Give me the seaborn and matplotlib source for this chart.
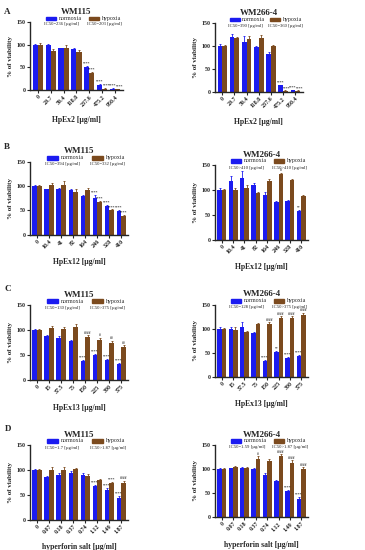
import matplotlib
matplotlib.use("Agg")
import matplotlib.pyplot as plt
from matplotlib.patches import Rectangle
import pandas as pd
import seaborn as sns

# --- data ---
conc_a = ['0', '29.7', '59.4', '118.8', '237.6', '475.2', '950.4']
conc_b = ['0', '10.4', '41', '82', '164', '246', '328', '410']
conc_c = ['0', '15', '37.5', '75', '150', '225', '300', '375']
conc_d = ['0', '0.07', '0.18', '0.37', '0.74', '1.12', '1.49', '1.87']

a1_norm = [100, 99, 92, 90, 50, 12, 3]
a1_hyp = [100, 86, 92, 84, 38, 3, 2]
a1_norm_err = [2, 2, 1, 2, 3, 2, 1]
a1_hyp_err = [3, 5, 7, 4, 3, 1, 1]
a1_norm_ann = ['', '', '', '', '****', '****', '****']
a1_hyp_ann = ['', '', '', '', '****', '****', '****']

a2_norm = [100, 120, 109, 98, 83, 14, 3]
a2_hyp = [100, 118, 116, 117, 99, 2, 2]
a2_norm_err = [4, 7, 12, 3, 5, 2, 1]
a2_hyp_err = [3, 2, 6, 6, 3, 1, 1]
a2_norm_ann = ['', '', '', '', '', '****', '****']
a2_hyp_ann = ['', '', '', '', '', '****', '****']

b1_norm = [100, 93, 94, 92, 79, 76, 60, 48]
b1_hyp = [100, 103, 102, 87, 92, 68, 50, 38]
b1_norm_err = [2, 2, 2, 2, 2, 5, 2, 3]
b1_hyp_err = [2, 3, 8, 6, 4, 2, 2, 3]
b1_norm_ann = ['', '', '', '', '', '****', '****', '****']
b1_hyp_ann = ['', '', '', '', '', '****', '****', '****']

b2_norm = [100, 118, 124, 110, 90, 75, 77, 57]
b2_hyp = [100, 100, 103, 94, 118, 131, 120, 88]
b2_norm_err = [3, 9, 14, 4, 6, 2, 2, 3]
b2_hyp_err = [2, 4, 6, 2, 4, 3, 2, 2]
b2_norm_ann = ['', '', '', '', '', '', '', '**']
b2_hyp_ann = ['', '', '', '', '', '#', '', '']

c1_norm = [100, 89, 85, 78, 39, 50, 40, 32]
c1_hyp = [100, 104, 102, 107, 86, 81, 75, 67]
c1_norm_err = [2, 2, 3, 3, 2, 3, 2, 2]
c1_hyp_err = [2, 5, 5, 6, 4, 4, 4, 3]
c1_norm_ann = ['', '', '', '', '****', '****', '****', '****']
c1_hyp_ann = ['', '', '', '', '####', '#', '##', '##']

c2_norm = [100, 99, 104, 91, 33, 51, 40, 44]
c2_hyp = [100, 98, 93, 109, 110, 123, 123, 129]
c2_norm_err = [4, 5, 11, 3, 2, 3, 2, 2]
c2_hyp_err = [2, 5, 2, 2, 4, 3, 3, 4]
c2_norm_ann = ['', '', '', '', '****', '**', '****', '****']
c2_hyp_ann = ['', '', '', '', '####', '####', '####', '####']

d1_norm = [100, 85, 90, 94, 89, 67, 60, 44]
d1_hyp = [100, 100, 100, 101, 88, 80, 73, 73]
d1_norm_err = [2, 3, 3, 4, 4, 3, 3, 3]
d1_hyp_err = [2, 5, 5, 3, 3, 2, 3, 5]
d1_norm_ann = ['', '', '', '', '', '****', '****', '****']
d1_hyp_ann = ['', '', '', '', '', '', '****', '####']

d2_norm = [100, 101, 101, 100, 88, 74, 54, 38]
d2_hyp = [100, 104, 101, 120, 117, 127, 113, 100]
d2_norm_err = [2, 2, 4, 3, 4, 4, 3, 3]
d2_hyp_err = [3, 2, 3, 6, 3, 4, 5, 4]
d2_norm_ann = ['', '', '', '', '', '', '****', '****']
d2_hyp_ann = ['', '', '', '#', '', '####', '####', '####']

blue = '#1b1bf0'
brown = '#7b4a1e'

sns.set_style("ticks")
plt.rcParams['font.family'] = ['Liberation Serif', 'DejaVu Serif']
plt.rcParams['font.weight'] = 'bold'


def draw(ax, conc, norm, hyp, norm_err, hyp_err, norm_ann, hyp_ann,
         ic_n, ic_h, title, xlabel):
    n = len(conc)
    df = pd.DataFrame({'conc': conc * 2, 'val': norm + hyp,
                       'cond': ['normoxia'] * n + ['hypoxia'] * n})
    sns.barplot(data=df, x='conc', y='val', hue='cond', order=conc,
                hue_order=['normoxia', 'hypoxia'],
                palette=[blue, brown], errorbar=None, width=0.78,
                saturation=1, legend=False, linewidth=0, ax=ax)
    bars = ax.patches
    for k, (vals, errs, anns, col) in enumerate(
            [(norm, norm_err, norm_ann, blue), (hyp, hyp_err, hyp_ann, brown)]):
        xs = [p.get_x() + p.get_width() / 2 for p in bars[k * n:(k + 1) * n]]
        ax.errorbar(xs, vals, yerr=[[0] * n, errs], fmt='none', ecolor=col,
                    elinewidth=0.6, capsize=1, capthick=0.6)
        for x, v, e, s in zip(xs, vals, errs, anns):
            if s:
                dx = 0.12 if (k == 1 and v < 15) else 0
                ax.text(x + dx, v + e + 1, s, ha='center', va='bottom',
                        fontsize=2.6, color='black', fontweight='normal')
    ax.set_ylim(0, 150)
    ax.set_yticks([0, 50, 100, 150])
    ax.set_xlim(-0.6, n - 0.4)
    sns.despine(ax=ax)
    for sp in ['left', 'bottom']:
        ax.spines[sp].set_linewidth(1.0)
    ax.tick_params(axis='both', length=2, width=0.8, pad=1, labelsize=4.3)
    ax.set_xticks(range(n))
    ax.set_xticklabels(conc, rotation=45, ha='right', rotation_mode='anchor')
    ax.set_xlabel(xlabel, fontsize=5.5, fontweight='bold', labelpad=6)
    ax.set_ylabel('% of viability', fontsize=5, fontweight='bold', labelpad=3)
    ax.set_title(title, fontsize=6.5, fontweight='bold', pad=6)
    # legend-like header
    for x0, col, name, ic in [(0.17, blue, 'normoxia', ic_n),
                              (0.63, brown, 'hypoxia', ic_h)]:
        ax.add_patch(Rectangle((x0, 1.03), 0.11, 0.05, transform=ax.transAxes,
                               color=col, clip_on=False))
        ax.text(x0 + 0.14, 1.055, name, transform=ax.transAxes, fontsize=4.2,
                va='center', ha='left', fontweight='normal')
        ax.text(x0 - 0.02, 0.965, 'IC50' + ic + ' [µg/ml]',
                transform=ax.transAxes, fontsize=3.4, va='center', ha='left',
                fontweight='normal')


fig = plt.figure(figsize=(3.65, 5.5), dpi=100)

ax_a1 = fig.add_axes([0.082, 0.836, 0.255, 0.124])
ax_a2 = fig.add_axes([0.589, 0.833, 0.24, 0.125])
ax_b1 = fig.add_axes([0.082, 0.573, 0.27, 0.133])
ax_b2 = fig.add_axes([0.589, 0.564, 0.255, 0.136])
ax_c1 = fig.add_axes([0.082, 0.309, 0.27, 0.136])
ax_c2 = fig.add_axes([0.589, 0.315, 0.255, 0.131])
ax_d1 = fig.add_axes([0.082, 0.055, 0.27, 0.136])
ax_d2 = fig.add_axes([0.589, 0.060, 0.255, 0.131])

draw(ax_a1, conc_a, a1_norm, a1_hyp, a1_norm_err, a1_hyp_err, a1_norm_ann,
     a1_hyp_ann, '=236', '=203', 'WM115', 'HpEx2 [µg/ml]')
draw(ax_a2, conc_a, a2_norm, a2_hyp, a2_norm_err, a2_hyp_err, a2_norm_ann,
     a2_hyp_ann, '=390', '=360', 'WM266-4', 'HpEx2 [µg/ml]')
draw(ax_b1, conc_b, b1_norm, b1_hyp, b1_norm_err, b1_hyp_err, b1_norm_ann,
     b1_hyp_ann, '=394', '=332', 'WM115', 'HpEx12 [µg/ml]')
draw(ax_b2, conc_b, b2_norm, b2_hyp, b2_norm_err, b2_hyp_err, b2_norm_ann,
     b2_hyp_ann, '>410', '>410', 'WM266-4', 'HpEx12 [µg/ml]')
draw(ax_c1, conc_c, c1_norm, c1_hyp, c1_norm_err, c1_hyp_err, c1_norm_ann,
     c1_hyp_ann, '=130', '>375', 'WM115', 'HpEx13 [µg/ml]')
draw(ax_c2, conc_c, c2_norm, c2_hyp, c2_norm_err, c2_hyp_err, c2_norm_ann,
     c2_hyp_ann, '=128', '>375', 'WM266-4', 'HpEx13 [µg/ml]')
draw(ax_d1, conc_d, d1_norm, d1_hyp, d1_norm_err, d1_hyp_err, d1_norm_ann,
     d1_hyp_ann, '=1.7', '>1.87', 'WM115', 'hyperforin salt [µg/ml]')
draw(ax_d2, conc_d, d2_norm, d2_hyp, d2_norm_err, d2_hyp_err, d2_norm_ann,
     d2_hyp_ann, '=1.59', '>1.87', 'WM266-4', 'hyperforin salt [µg/ml]')

for lab, y in [('A', 0.985), ('B', 0.74), ('C', 0.482), ('D', 0.228)]:
    fig.text(0.012, y, lab, fontsize=6.5, fontweight='bold', va='top')

fig.savefig('out.png', dpi=100)
